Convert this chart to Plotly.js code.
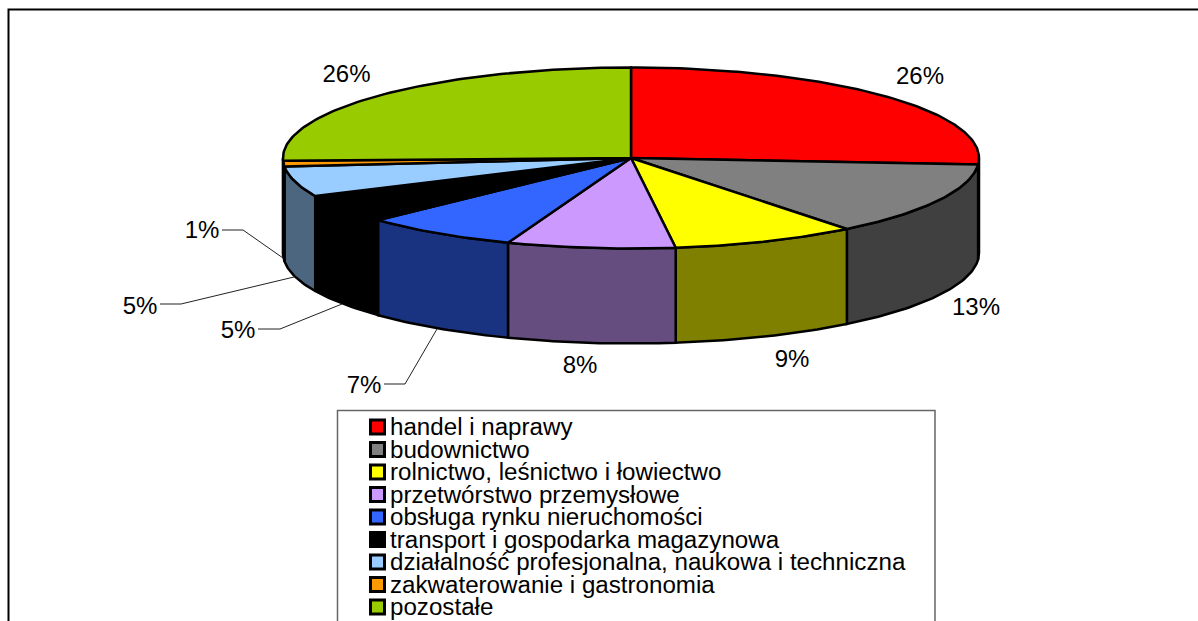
<!DOCTYPE html>
<html>
<head>
<meta charset="utf-8">
<script src="https://cdn.plot.ly/plotly-3.0.1.min.js"></script>
<style>html,body{margin:0;padding:0;background:#fff;overflow:hidden}#chart{width:1198px;height:621px}</style>
</head>
<body>
<div id="chart"></div>
<script>
const categories = ["handel i naprawy","budownictwo","rolnictwo, leśnictwo i łowiectwo","przetwórstwo przemysłowe","obsługa rynku nieruchomości","transport i gospodarka magazynowa","działalność profesjonalna, naukowa i techniczna","zakwaterowanie i gastronomia","pozostałe"];
const shares = [26.15,13.2,8.6,7.8,7.2,5.15,5.4,1.0,25.5];
const topColors = ["#ff0000","#808080","#ffff00","#cc99ff","#3366ff","#000000","#99ccff","#ff9900","#99cc00"];
const sideColors = ["#800000","#404040","#808000","#664d80","#1a3380","#000000","#4d6680","#804d00","#4d6600"];

// pie projection (plot units equal pixels)
const CX=631, CY=158, RX=348, RY=90.5, DEPTH=95;
const labelX=[920,346.5,976,792,580,364,238,140,202];
const labelOrder=[0,8,1,2,3,4,5,6,7];
const labelY=[78,76,309,361,367,387,332,308,232];
const leaders=[
  [[222,243,283],[230,230,258]],
  [[160,181,294],[304,304,277]],
  [[258,280,342],[329,329,304]],
  [[384,405,437],[384,384,329]]
];
const pt=(deg,dz=0)=>{const r=deg*Math.PI/180;return [CX+RX*Math.sin(r),CY-RY*Math.cos(r)+dz];};
const arc=(a,b,dz=0)=>{const n=Math.max(2,Math.ceil(Math.abs(b-a)));const o=[];for(let i=0;i<=n;i++)o.push(pt(a+(b-a)*i/n,dz));return o;};
const total=shares.reduce((s,v)=>s+v,0);
let acc=0;
const spans=shares.map(v=>{const a=acc/total*360;acc+=v;return [a,acc/total*360];});

const traces=[];
const poly=(pts,fill,name)=>traces.push({type:"scatter",mode:"lines",x:pts.map(p=>p[0]),y:pts.map(p=>p[1]),fill:"toself",fillcolor:fill,line:{color:"#000",width:2.5,shape:"linear"},name,hoverinfo:"name",showlegend:false});

spans.forEach(([a,b],i)=>{
  const s=Math.max(a,90), e=Math.min(b,270);
  if(e>s){
    const pts=arc(s,e).concat(arc(e,s,DEPTH));
    pts.push(pts[0]);
    poly(pts,sideColors[i],categories[i]);
  }
});
spans.forEach(([a,b],i)=>{
  const pts=[[CX,CY]].concat(arc(a,b));
  pts.push([CX,CY]);
  poly(pts,topColors[i],categories[i]);
});
leaders.forEach(l=>traces.push({type:"scatter",mode:"lines",x:l[0],y:l[1],line:{color:"#222",width:1},hoverinfo:"skip",showlegend:false}));

// percent labels
const FONT="Liberation Sans, Arial, sans-serif";
traces.push({type:"scatter",mode:"text",x:labelX,y:labelY,text:labelOrder.map(i=>Math.round(shares[i])+"%"),textposition:"middle center",textfont:{family:FONT,size:24,color:"#000"},cliponaxis:false,hoverinfo:"skip",showlegend:false});

// legend
const rowY=categories.map((c,i)=>427+i*22.5);
const textY=rowY.map(y=>y+2);
traces.push({type:"scatter",mode:"markers",x:categories.map(()=>377.5),y:rowY,marker:{symbol:"square",size:14,color:topColors,line:{color:"#000",width:3}},cliponaxis:false,hoverinfo:"skip",showlegend:false});
traces.push({type:"scatter",mode:"text",x:categories.map(()=>390),y:textY,text:categories,textposition:"middle right",textfont:{family:FONT,size:24.15,color:"#000"},cliponaxis:false,hoverinfo:"skip",showlegend:false});

const hidden={visible:false,fixedrange:true};
Plotly.newPlot("chart",traces,{
  width:1198,height:621,margin:{l:0,r:0,t:0,b:0,pad:0},
  paper_bgcolor:"#fff",plot_bgcolor:"#fff",showlegend:false,
  xaxis:Object.assign({range:[0,1198]},hidden),
  yaxis:Object.assign({range:[621,0]},hidden),
  shapes:[
    {type:"path",path:"M 8.5 622 L 8.5 9.5 L 1199 9.5",line:{color:"#000",width:2},layer:"below"},
    {type:"path",path:"M 337.5 622 L 337.5 410.5 L 935 410.5 L 935 622",line:{color:"#666",width:1.5},layer:"below"}
  ]
},{staticPlot:true,displayModeBar:false});
</script>
</body>
</html>
